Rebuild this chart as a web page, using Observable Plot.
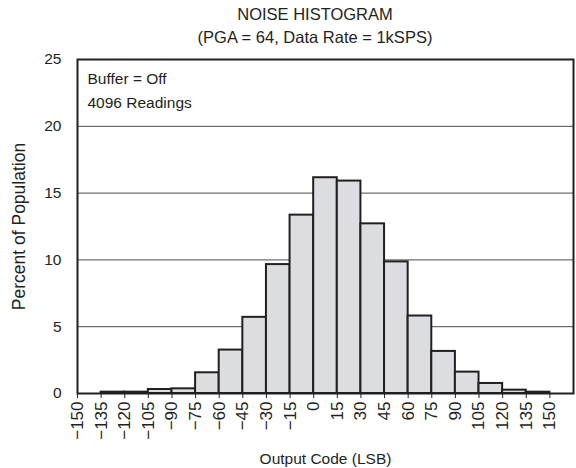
<!DOCTYPE html>
<html>
<head>
<meta charset="utf-8">
<script src="https://cdn.jsdelivr.net/npm/d3@7"></script>
<script src="https://cdn.jsdelivr.net/npm/@observablehq/plot@0.6"></script>
<style>
  html, body { margin: 0; padding: 0; background: #fff; }
  #wrap { width: 576px; height: 468px; font-family: "Liberation Sans", Arial, sans-serif; color: #231f20; }
  #title { box-sizing: border-box; width: 576px; height: 50px; padding-top: 3px; padding-left: 54px; text-align: center; font-size: 16.5px; line-height: 23px; }
</style>
</head>
<body>
<div id="wrap">
  <div id="title"><div>NOISE HISTOGRAM</div><div>(PGA = 64, Data Rate = 1kSPS)</div></div>
  <div id="chart"></div>
</div>
<script>
// Bin lower edges (LSB), each bin 15 LSB wide
const binStart = [-135, -120, -105, -90, -75, -60, -45, -30, -15, 0, 15, 30, 45, 60, 75, 90, 105, 120, 135];
// Percent of population per bin
const percent = [0.1, 0.1, 0.3, 0.35, 1.55, 3.25, 5.7, 9.65, 13.35, 16.15, 15.9, 12.7, 9.85, 5.8, 3.15, 1.6, 0.75, 0.25, 0.1];
const binWidth = 15;
const xTicks = [-150, -135, -120, -105, -90, -75, -60, -45, -30, -15, 0, 15, 30, 45, 60, 75, 90, 105, 120, 135, 150];
const yTicks = [0, 5, 10, 15, 20, 25];
const gridY = [5, 10, 15, 20];
const infoText = ["Buffer = Off", "4096 Readings"];
const xLabel = ["Output Code (LSB)"];
const yLabel = ["Percent of Population"];

const bins = binStart.map((s, i) => ({x1: s, x2: s + binWidth, y: percent[i]}));
const ink = "#231f20";

const chart = Plot.plot({
  width: 576,
  height: 418,
  marginLeft: 77,
  marginRight: 3,
  marginTop: 9,
  marginBottom: 75,
  style: { fontFamily: "'Liberation Sans', Arial, sans-serif", fontSize: "15.5px", color: ink, background: "#fff", overflow: "visible" },
  x: { domain: [-150, 165] },
  y: { domain: [0, 25] },
  marks: [
    Plot.ruleY(gridY, { stroke: "#4a4a4a", strokeWidth: 1 }),
    Plot.rectY(bins, { x1: "x1", x2: "x2", y: "y", fill: "#dcdde0", stroke: ink, strokeWidth: 2 }),
    Plot.frame({ stroke: ink, strokeWidth: 2 }),
    Plot.axisX({
      ticks: xTicks,
      tickFormat: d => d < 0 ? "\u2212" + Math.abs(d) : String(d),
      tickRotate: -90,
      tickSize: 5,
      tickPadding: 3,
      stroke: ink,
      fontSize: 17,
      label: null
    }),
    Plot.axisY({
      ticks: yTicks,
      tickSize: 0,
      tickPadding: 16,
      label: null
    }),
    Plot.text(xLabel, {
      frameAnchor: "bottom",
      lineAnchor: "bottom",
      dy: 70,
      fill: ink
    }),
    Plot.text(yLabel, {
      frameAnchor: "left",
      textAnchor: "middle",
      rotate: -90,
      lineAnchor: "top",
      dx: -65,
      fontSize: 17.5,
      fill: ink
    }),
    Plot.text([infoText.join("\n")], {
      frameAnchor: "top-left",
      textAnchor: "start",
      lineAnchor: "top",
      dx: 10,
      dy: 7,
      lineHeight: 1.55,
      fill: ink
    })
  ]
});
document.getElementById("chart").appendChild(chart);
</script>
</body>
</html>
